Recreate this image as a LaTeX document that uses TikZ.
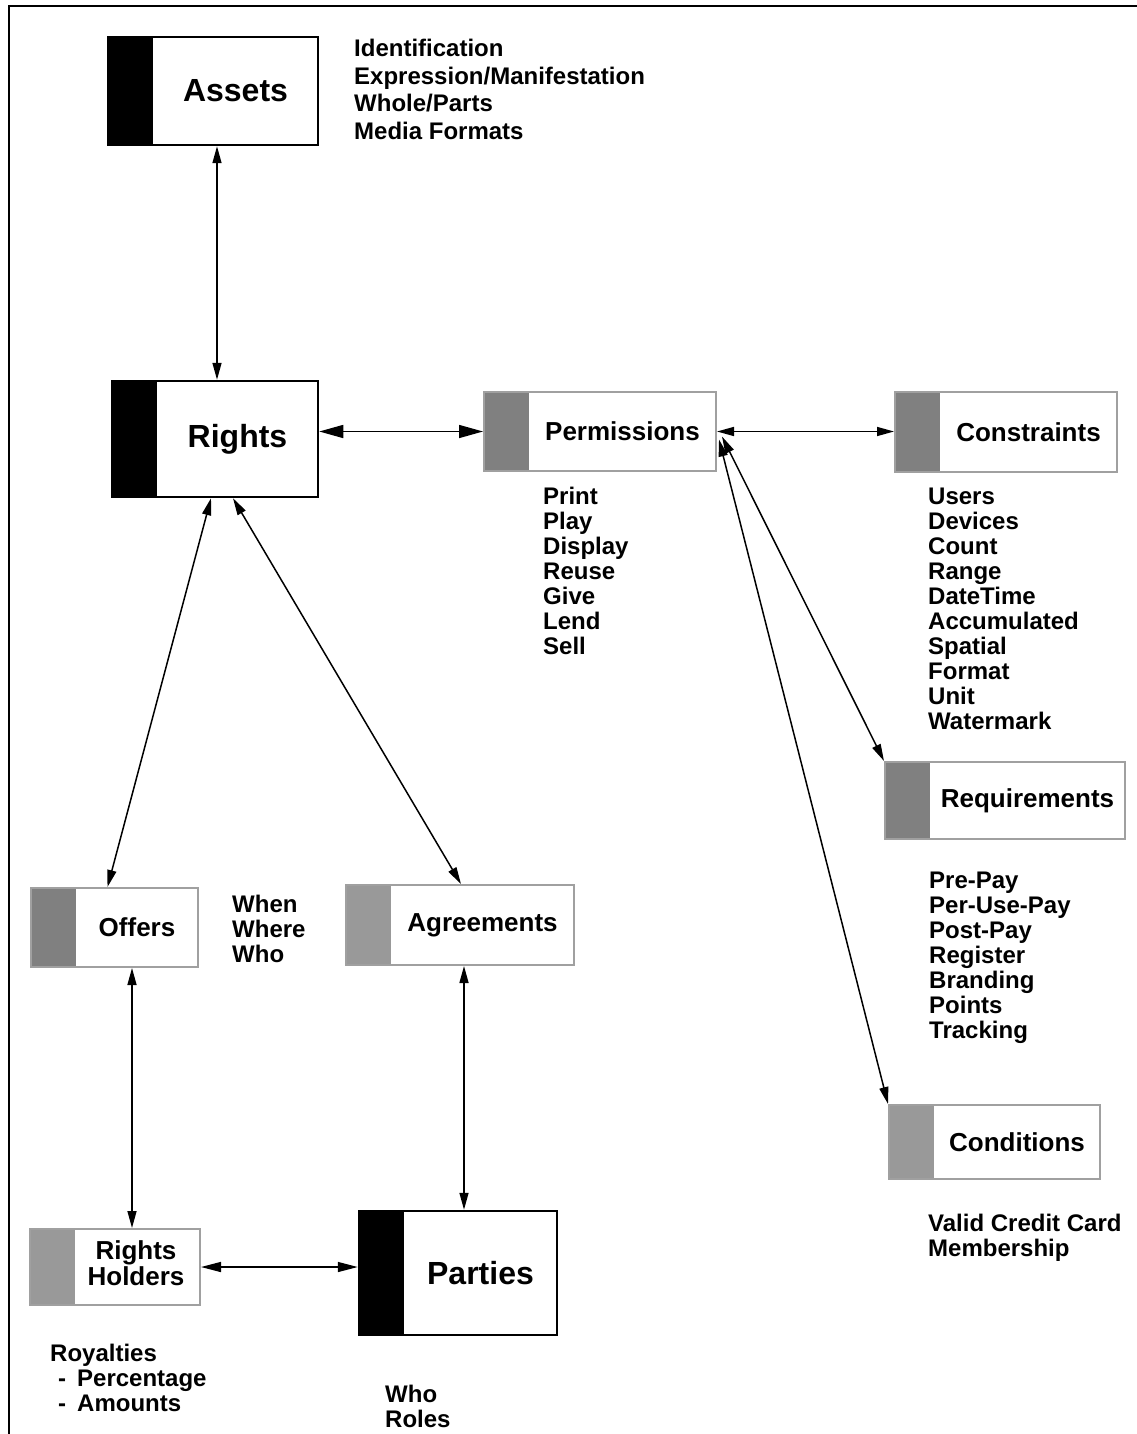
\documentclass[tikz,border=0pt]{standalone}
\usepackage{fontspec}
\setmainfont{Liberation Sans}
\usetikzlibrary{arrows.meta,calc}
\definecolor{bardark}{HTML}{808080}
\definecolor{barlight}{HTML}{999999}
\definecolor{edgegray}{HTML}{A0A0A0}
\begin{document}
\begin{tikzpicture}[x=1pt,y=-1pt,
  box/.style={draw=#1, fill=white, inner sep=0pt, font=\bfseries\fontsize{26}{25}\selectfont},
  mainbox/.style={box=black, line width=2.5pt, font=\bfseries\fontsize{32}{32}\selectfont},
  subbox/.style={box=edgegray, line width=2pt},
  bar/.style={path picture={\fill[#1] (path picture bounding box.north west) rectangle ([xshift=45pt]path picture bounding box.south west);}},
  item/.style={anchor=base west, inner sep=0pt, font=\bfseries\fontsize{24}{25}\selectfont},
  link/.style={line width=1.5pt, {Triangle[length=17pt,width=9pt]}-{Triangle[length=17pt,width=9pt]}},
  biglink/.style={line width=1.5pt, {Triangle[length=24pt,width=13pt]}-{Triangle[length=24pt,width=13pt]}},
  midlink/.style={line width=1.5pt, {Triangle[length=20pt,width=10pt]}-{Triangle[length=20pt,width=10pt]}},
]
\useasboundingbox (0,0) rectangle (1136,1434);
% frame
\draw[line width=2.6pt] (9,1440) -- (9,6) -- (1140,6);

% boxes
\node[mainbox, bar=black, minimum width=210pt, minimum height=108pt] (assets) at (213,91) {\hspace*{45pt}Assets};
\node[mainbox, bar=black, minimum width=206pt, minimum height=116pt] (rights) at (215,439) {\hspace*{45pt}Rights};
\node[mainbox, bar=black, minimum width=198pt, minimum height=124pt] (parties) at (458,1273) {\hspace*{45pt}Parties};

\node[subbox, bar=bardark, minimum width=232pt, minimum height=79pt] (permissions) at (600,431.5) {\hspace*{45pt}Permissions};
\node[subbox, bar=bardark, minimum width=222pt, minimum height=80pt] (constraints) at (1006,432) {\hspace*{45pt}Constraints};
\node[subbox, bar=bardark, minimum width=240pt, minimum height=77pt] (requirements) at (1005,800.5) {\hspace*{45pt}Requirements};
\node[subbox, bar=barlight, minimum width=211pt, minimum height=74pt] (conditions) at (994.5,1142) {\hspace*{45pt}Conditions};
\node[subbox, bar=bardark, minimum width=167pt, minimum height=79pt] (offers) at (114.5,927.5) {\hspace*{45pt}Offers};
\node[subbox, bar=barlight, minimum width=228pt, minimum height=80pt] (agreements) at (460,925) {\hspace*{45pt}Agreements};
\node[subbox, bar=barlight, minimum width=170pt, minimum height=76pt] (holders) at (115,1267)
  {\hspace*{42pt}\begin{tabular}{@{}c@{}}Rights\\Holders\end{tabular}};

% connectors
\draw[link] ([xshift=4pt]assets.south) -- ([xshift=2pt]rights.north);
\draw[biglink] (rights.east |- permissions.west) -- (permissions.west);
\draw[link] (permissions.east) -- (constraints.west |- permissions.east);
\draw[link] ($(permissions.east)+(5,5)$) -- (requirements.north west);
\draw[link] ($(permissions.east)+(2,8)$) -- (conditions.north west);
\draw[link] ($(rights.south)+(-4,0)$) -- ($(offers.north)+(-7,0)$);
\draw[link] ($(rights.south)+(18,0)$) -- ($(agreements.north)+(1,0)$);
\draw[link] ($(offers.south)+(17.5,0)$) -- ($(holders.north)+(17,0)$);
\draw[link] ($(agreements.south)+(4,0)$) -- ($(parties.north)+(6,0)$);
\draw[midlink] (holders.east) -- (parties.west |- holders.east);

% lists
\foreach \t [count=\i] in {Identification,Expression/Manifestation,Whole/Parts,Media Formats}
  \node[item] (asset-\i) at (354,{56.6+27.7*(\i-1)}) {\t};
\foreach \t [count=\i] in {Print,Play,Display,Reuse,Give,Lend,Sell}
  \node[item] (perm-\i) at (543,{504.6+25*(\i-1)}) {\t};
\foreach \t [count=\i] in {Users,Devices,Count,Range,DateTime,Accumulated,Spatial,Format,Unit,Watermark}
  \node[item] (cons-\i) at (928,{504.6+25*(\i-1)}) {\t};
\foreach \t [count=\i] in {Pre-Pay,Per-Use-Pay,Post-Pay,Register,Branding,Points,Tracking}
  \node[item] (req-\i) at (929,{888.6+25*(\i-1)}) {\t};
\foreach \t [count=\i] in {Valid Credit Card,Membership}
  \node[item] (cond-\i) at (928,{1231.6+25*(\i-1)}) {\t};
\foreach \t [count=\i] in {When,Where,Who}
  \node[item] (offer-\i) at (232,{912.6+25*(\i-1)}) {\t};
\foreach \t [count=\i] in {Who,Roles}
  \node[item] (party-\i) at (385,{1402.6+25*(\i-1)}) {\t};
\node[item] (roy-1) at (50,1361.6) {Royalties};
\node[item] (roy-2) at (58,1386.6) {-\hspace{11pt}Percentage};
\node[item] (roy-3) at (58,1411.6) {-\hspace{11pt}Amounts};
\end{tikzpicture}
\end{document}
